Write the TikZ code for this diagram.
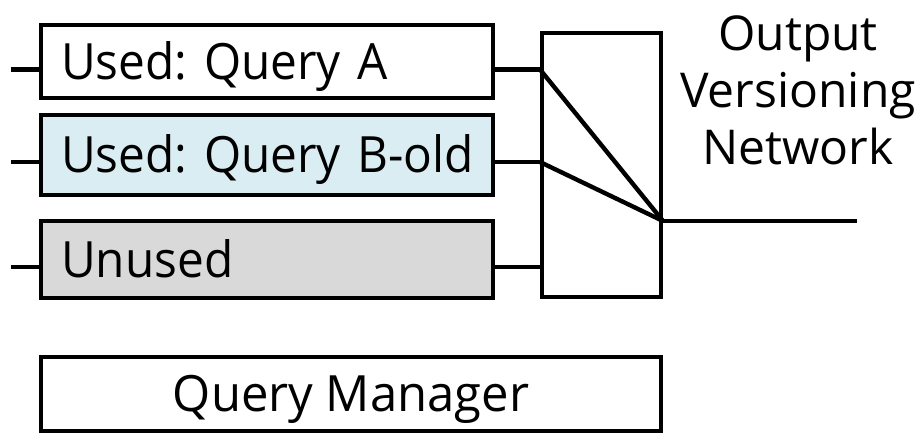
\documentclass[tikz,border=0pt]{standalone}
\usepackage{fontspec}
\setmainfont{Open Sans}
\newfontfamily\boxfont[FakeStretch=0.955]{Open Sans}
\newfontfamily\qmfont[FakeStretch=0.98]{Open Sans}
\frenchspacing
\definecolor{lightblue}{HTML}{DAEDF3}
\definecolor{lightgray}{HTML}{D9D9D9}
\begin{document}
\begin{tikzpicture}[x=1pt,y=-1pt,
  lw/.style={line width=4.4pt},
  qbox/.style={lw, draw=black, rectangle, minimum width=451.6pt, text width=411.6pt,
    inner xsep=20pt, inner ysep=0pt, align=left, text height=36pt, text depth=0pt,
    font=\boxfont\fontsize{50}{60}\selectfont},
  conn/.style={lw}]
\useasboundingbox (0,0) rectangle (922,435);
\node[qbox, fill=white, minimum height=72.6pt] (A) at (267,61.5) {\mbox{Used: Query A}};
\node[qbox, fill=lightblue, minimum height=79.6pt] (B) at (267,155) {\mbox{Used: Query B-old}};
\node[qbox, fill=lightgray, minimum height=76.6pt] (C) at (267,259.5) {\mbox{Unused}};
\node[lw, draw, rectangle, minimum width=118.6pt, minimum height=263.6pt, inner sep=0pt] (N) at (601.5,165) {};
\node[lw, draw, rectangle, minimum width=619.6pt, minimum height=73.6pt, inner sep=0pt,
  text height=36pt, text depth=0pt, font=\qmfont\fontsize{50}{60}\selectfont] (QM) at (351,394) {Query Manager};
\node[align=center, font=\fontsize{48}{57}\selectfont, inner sep=0pt, anchor=base] (T) at (798,165) {Output\\Versioning\\Network};
\coordinate (inA) at (11,69.5);
\coordinate (inB) at (11,162);
\coordinate (inC) at (11,267);
\coordinate (nA) at (N.west |- inA);
\coordinate (nB) at (N.west |- inB);
\coordinate (nC) at (N.west |- inC);
\coordinate (J) at (N.east |- 0,221);
\coordinate (out) at (857,221);
\draw[conn] (inA) -- (A.west |- inA);
\draw[conn] (inB) -- (B.west |- inB);
\draw[conn] (inC) -- (C.west |- inC);
\draw[conn] (A.east |- inA) -- (nA);
\draw[conn] (B.east |- inB) -- (nB);
\draw[conn] (C.east |- inC) -- (nC);
\draw[conn] (nA) -- (J);
\draw[conn] (nB) -- (J);
\draw[conn] (J) -- (out);
\end{tikzpicture}
\end{document}
